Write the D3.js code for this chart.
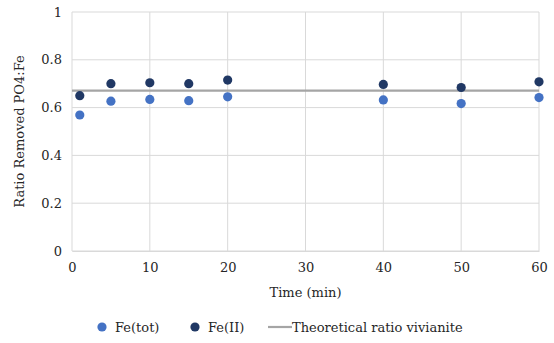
<!DOCTYPE html>
<html>
<head>
<meta charset="utf-8">
<script src="https://cdn.jsdelivr.net/npm/d3@7"></script>
<style>
  body { margin: 0; background: #fff; }
  text { font-family: "DejaVu Serif", "Liberation Serif", serif; fill: #262626; }
</style>
</head>
<body>
<div class="chart"></div>
<script>
// data
var times = [1, 5, 10, 15, 20, 40, 50, 60];
var feTot = [0.569, 0.627, 0.634, 0.629, 0.645, 0.632, 0.617, 0.642];
var feII = [0.650, 0.700, 0.704, 0.700, 0.715, 0.697, 0.684, 0.708];
var theoretical = 0.671;
var xTicks = [0, 10, 20, 30, 40, 50, 60];
var yTicks = [0, 0.2, 0.4, 0.6, 0.8, 1];

var svgWidth = 554;
var svgHeight = 343;
var margin = { top: 12, right: 15, bottom: 92, left: 72 };
var width = svgWidth - margin.left - margin.right;
var height = svgHeight - margin.top - margin.bottom;

var svg = d3.select(".chart")
    .append("svg")
    .attr("width", svgWidth)
    .attr("height", svgHeight);

var chart = svg.append("g")
    .attr("transform", `translate(${margin.left},${margin.top})`);

var xScale = d3.scaleLinear().domain([0, 60]).range([0, width]);
var yScale = d3.scaleLinear().domain([0, 1]).range([height, 0]);

// gridlines
chart.append("g")
    .selectAll("line")
    .data(yTicks)
    .enter()
    .append("line")
    .attr("x1", 0)
    .attr("x2", width)
    .attr("y1", function (d) { return yScale(d); })
    .attr("y2", function (d) { return yScale(d); })
    .attr("stroke", "#d9d9d9")
    .attr("stroke-width", 1);

chart.append("g")
    .selectAll("line")
    .data(xTicks)
    .enter()
    .append("line")
    .attr("x1", function (d) { return xScale(d); })
    .attr("x2", function (d) { return xScale(d); })
    .attr("y1", 0)
    .attr("y2", height)
    .attr("stroke", "#d9d9d9")
    .attr("stroke-width", 1);

// axes (labels only, lines hidden)
var xAxis = d3.axisBottom(xScale).tickValues(xTicks).tickSize(0).tickPadding(12)
    .tickFormat(d3.format("d"));
var yAxis = d3.axisLeft(yScale).tickValues(yTicks).tickSize(0).tickPadding(10)
    .tickFormat(function (d) { return d === 0 || d === 1 ? d : d3.format(".1f")(d); });

var gx = chart.append("g")
    .attr("transform", `translate(0,${height})`)
    .call(xAxis);
gx.select(".domain").attr("stroke", "#d9d9d9");
gx.selectAll("text").attr("font-size", "13px").style("font-family", "DejaVu Serif");

var gy = chart.append("g").call(yAxis);
gy.select(".domain").remove();
gy.selectAll("text").attr("font-size", "13px").style("font-family", "DejaVu Serif");

// theoretical line
chart.append("line")
    .attr("x1", xScale(0))
    .attr("x2", xScale(60))
    .attr("y1", yScale(theoretical))
    .attr("y2", yScale(theoretical))
    .attr("stroke", "#a5a5a5")
    .attr("stroke-width", 2.2);

// points
chart.append("g")
    .selectAll("circle")
    .data(times)
    .enter()
    .append("circle")
    .attr("cx", function (d) { return xScale(d); })
    .attr("cy", function (d, i) { return yScale(feTot[i]); })
    .attr("r", 4.6)
    .attr("fill", "#4472c4");

chart.append("g")
    .selectAll("circle")
    .data(times)
    .enter()
    .append("circle")
    .attr("cx", function (d) { return xScale(d); })
    .attr("cy", function (d, i) { return yScale(feII[i]); })
    .attr("r", 4.6)
    .attr("fill", "#203864");

// axis titles
chart.append("text")
    .attr("transform", `translate(${width / 2},${height + 46})`)
    .attr("text-anchor", "middle")
    .attr("font-size", "13px")
    .text("Time (min)");

chart.append("text")
    .attr("transform", `translate(-48,${height / 2})rotate(-90)`)
    .attr("text-anchor", "middle")
    .attr("font-size", "13px")
    .text("Ratio Removed PO4:Fe");

// legend
var legend = svg.append("g").attr("transform", "translate(0,327)");
legend.append("circle").attr("cx", 102).attr("cy", 0).attr("r", 4.6).attr("fill", "#4472c4");
legend.append("text").attr("x", 115).attr("y", 4.5).attr("font-size", "13px").text("Fe(tot)");
legend.append("circle").attr("cx", 195).attr("cy", 0).attr("r", 4.6).attr("fill", "#203864");
legend.append("text").attr("x", 208).attr("y", 4.5).attr("font-size", "13px").text("Fe(II)");
legend.append("line").attr("x1", 268).attr("x2", 292).attr("y1", 0).attr("y2", 0)
    .attr("stroke", "#a5a5a5").attr("stroke-width", 2.2);
legend.append("text").attr("x", 292).attr("y", 4.5).attr("font-size", "13px").text("Theoretical ratio vivianite");
</script>
</body>
</html>
